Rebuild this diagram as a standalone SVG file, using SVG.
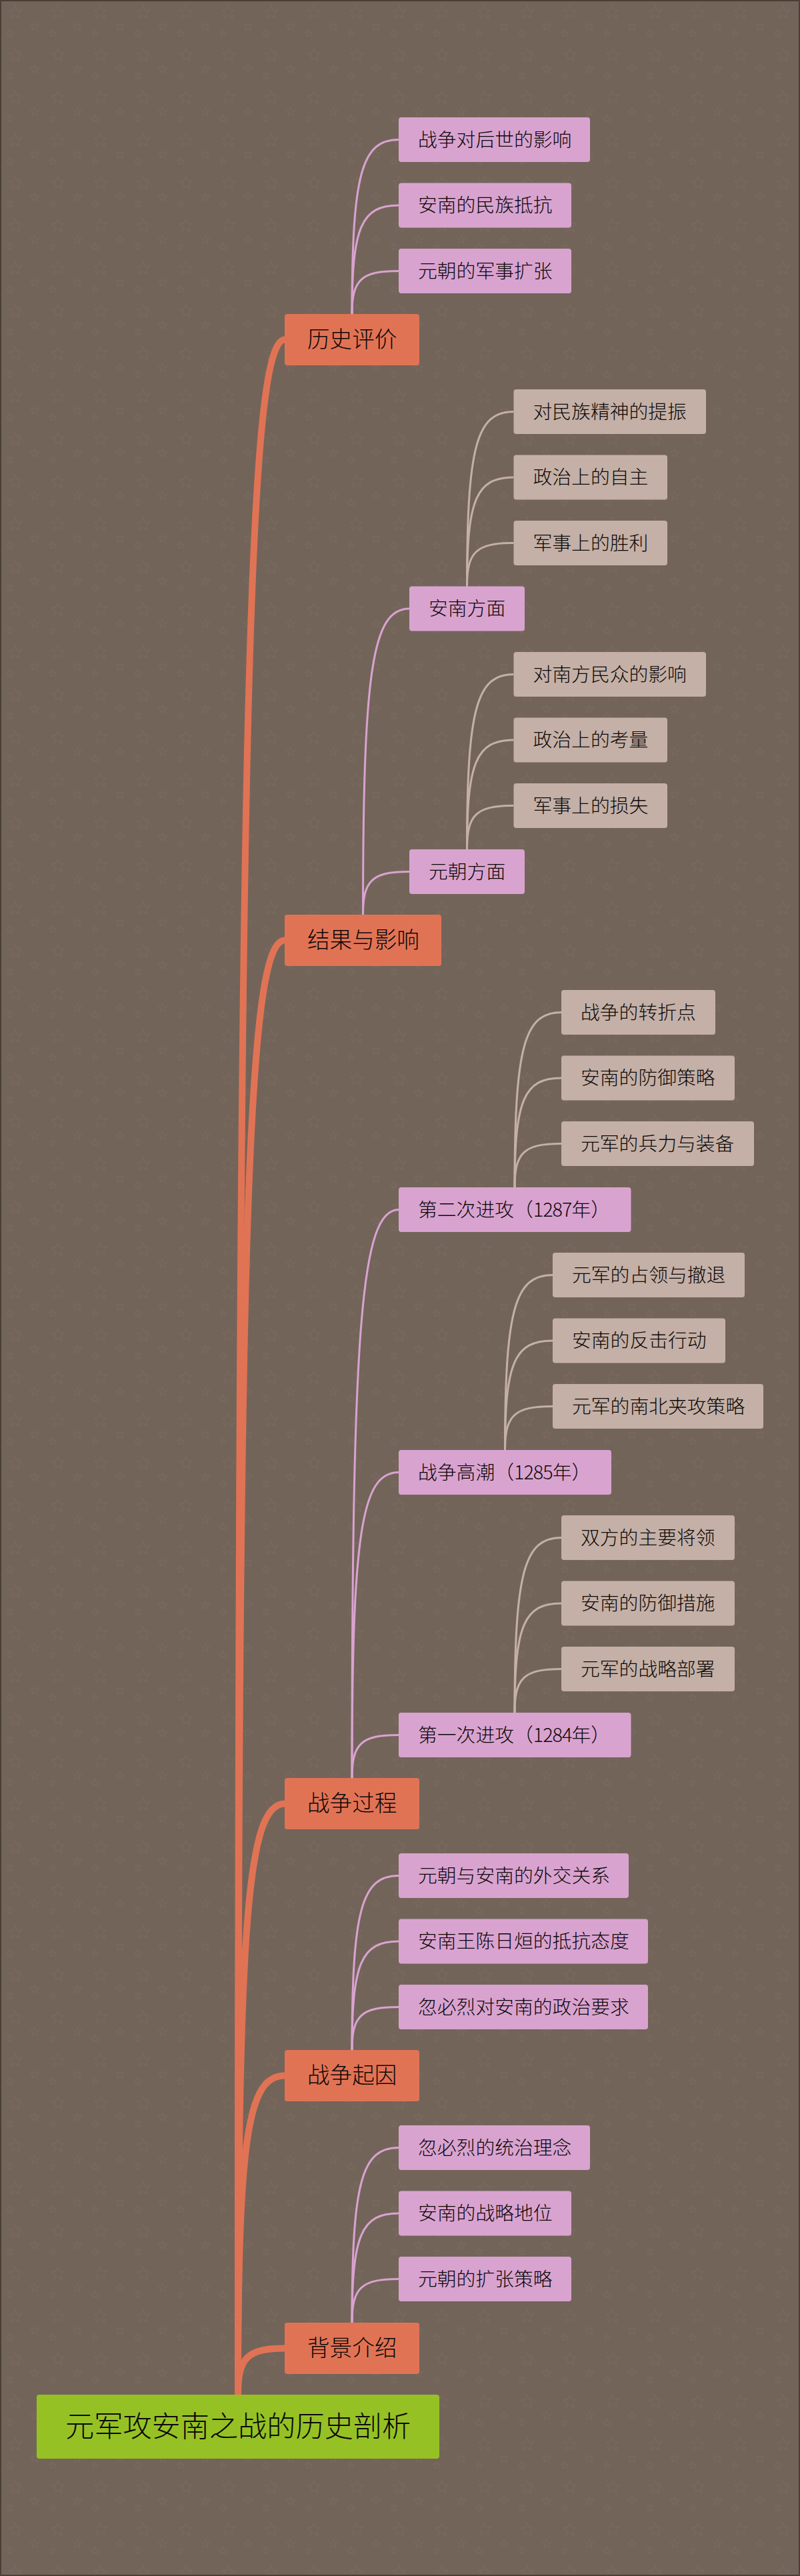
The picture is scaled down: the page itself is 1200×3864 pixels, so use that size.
<svg xmlns="http://www.w3.org/2000/svg" width="1200" height="3864" viewBox="0 0 1200 3864">
<style>
text{font-family:"Noto Sans CJK SC","Noto Sans CJK TC",sans-serif;fill:#0c0808;font-weight:300}
.r rect{fill:#95c124}.a rect{fill:#e17355}.b rect{fill:#d9a3d0}.c rect{fill:#c4b0a6}
.a text{font-size:33.6px}.b text,.c text{font-size:28.8px}
.r text{font-size:43.2px}
.n{letter-spacing:-1px}
#connectors path{fill:none}
.ea{stroke:#e17355;stroke-width:10}.eb{stroke:#d9a3d0;stroke-width:3}.ec{stroke:#c4b0a6;stroke-width:3}
</style>
<defs>
<pattern id="stars" width="64" height="64" patternUnits="userSpaceOnUse">
<g fill="none" stroke="#7a6a5e" stroke-width="1">
<polygon points="23,8 25.6,15 33,15.5 27.2,20 29.2,27.5 23,23.2 16.8,27.5 18.8,20 13,15.5 20.4,15"/>
<polygon points="52,33 53.7,37.4 58.4,37.7 54.7,40.6 56,45.4 52,42.6 48,45.4 49.3,40.6 45.6,37.7 50.3,37.4"/>
<polygon points="15,44.5 16.4,48.2 20.2,48.5 17.3,50.8 18.3,54.7 15,52.5 11.7,54.7 12.7,50.8 9.8,48.5 13.6,48.2"/>
</g>
</pattern>
</defs>
<rect width="1200" height="3864" fill="#73645a"/>
<rect width="1200" height="3864" fill="url(#stars)"/>
<rect x="1" y="1" width="1198" height="3862" fill="none" stroke="#4a3f35" stroke-width="2"/>
<g id="connectors">
<path class="ea" d="M357 3592C357 1126 371 509.5 427 509.5"/>
<path class="ea" d="M357 3592C357 1846.8 371 1410.5 427 1410.5"/>
<path class="ea" d="M357 3592C357 2882.8 371 2705.5 427 2705.5"/>
<path class="ea" d="M357 3592C357 3209.2 371 3113.5 427 3113.5"/>
<path class="ea" d="M357 3592C357 3536.4 371 3522.5 427 3522.5"/>
<path class="eb" d="M528 471C528 261.8 542 209.5 598 209.5"/>
<path class="eb" d="M528 471C528 340.6 542 308 598 308"/>
<path class="eb" d="M528 471C528 419.4 542 406.5 598 406.5"/>
<path class="eb" d="M544.5 1372C544.5 1004.8 558.4 913 614 913"/>
<path class="eb" d="M544.5 1372C544.5 1320.4 558.4 1307.5 614 1307.5"/>
<path class="eb" d="M528 2667C528 1985 542 1814.5 598 1814.5"/>
<path class="eb" d="M528 2667C528 2300.2 542 2208.5 598 2208.5"/>
<path class="eb" d="M528 2667C528 2615.4 542 2602.5 598 2602.5"/>
<path class="eb" d="M528 3075C528 2865.8 542 2813.5 598 2813.5"/>
<path class="eb" d="M528 3075C528 2944.6 542 2912 598 2912"/>
<path class="eb" d="M528 3075C528 3023.4 542 3010.5 598 3010.5"/>
<path class="eb" d="M528 3484C528 3274 542 3221.5 598 3221.5"/>
<path class="eb" d="M528 3484C528 3352.8 542 3320 598 3320"/>
<path class="eb" d="M528 3484C528 3431.6 542 3418.5 598 3418.5"/>
<path class="ec" d="M700.5 879.5C700.5 669.9 714.5 617.5 770.5 617.5"/>
<path class="ec" d="M700.5 879.5C700.5 748.7 714.5 716 770.5 716"/>
<path class="ec" d="M700.5 879.5C700.5 827.5 714.5 814.5 770.5 814.5"/>
<path class="ec" d="M700.5 1274C700.5 1064 714.5 1011.5 770.5 1011.5"/>
<path class="ec" d="M700.5 1274C700.5 1142.8 714.5 1110 770.5 1110"/>
<path class="ec" d="M700.5 1274C700.5 1221.6 714.5 1208.5 770.5 1208.5"/>
<path class="ec" d="M772 1781C772 1571 786 1518.5 842 1518.5"/>
<path class="ec" d="M772 1781C772 1649.8 786 1617 842 1617"/>
<path class="ec" d="M772 1781C772 1728.6 786 1715.5 842 1715.5"/>
<path class="ec" d="M757.5 2175C757.5 1965 771.8 1912.5 829 1912.5"/>
<path class="ec" d="M757.5 2175C757.5 2043.8 771.8 2011 829 2011"/>
<path class="ec" d="M757.5 2175C757.5 2122.6 771.8 2109.5 829 2109.5"/>
<path class="ec" d="M772 2569C772 2359 786 2306.5 842 2306.5"/>
<path class="ec" d="M772 2569C772 2437.8 786 2405 842 2405"/>
<path class="ec" d="M772 2569C772 2516.6 786 2503.5 842 2503.5"/>
</g>
<g id="n-root" class="r"><rect x="55" y="3592" width="604" height="96" rx="4"/><text x="98" y="3655">元军攻安南之战的历史剖析</text></g>
<g id="n1" class="a"><rect x="427" y="471" width="202" height="77" rx="4"/><text x="461" y="521">历史评价</text></g>
<g id="n2" class="a"><rect x="427" y="1372" width="235" height="77" rx="4"/><text x="461" y="1422">结果与影响</text></g>
<g id="n3" class="a"><rect x="427" y="2667" width="202" height="77" rx="4"/><text x="461" y="2717">战争过程</text></g>
<g id="n4" class="a"><rect x="427" y="3075" width="202" height="77" rx="4"/><text x="461" y="3125">战争起因</text></g>
<g id="n5" class="a"><rect x="427" y="3484" width="202" height="77" rx="4"/><text x="461" y="3534">背景介绍</text></g>
<g id="n1-1" class="b"><rect x="598" y="176" width="287" height="67" rx="4"/><text x="627" y="219.500">战争对后世的影响</text></g>
<g id="n1-2" class="b"><rect x="598" y="274.500" width="259" height="67" rx="4"/><text x="627" y="318">安南的民族抵抗</text></g>
<g id="n1-3" class="b"><rect x="598" y="373" width="259" height="67" rx="4"/><text x="627" y="416.500">元朝的军事扩张</text></g>
<g id="n2-1" class="b"><rect x="614" y="879.500" width="173" height="67" rx="4"/><text x="643" y="923">安南方面</text></g>
<g id="n2-2" class="b"><rect x="614" y="1274" width="173" height="67" rx="4"/><text x="643" y="1317.500">元朝方面</text></g>
<g id="n3-1" class="b"><rect x="598" y="1781" width="348.500" height="67" rx="4"/><text x="627" y="1824.500">第二次进攻（<tspan class="n">1287</tspan>年）</text></g>
<g id="n3-2" class="b"><rect x="598" y="2175" width="319" height="67" rx="4"/><text x="627" y="2218.500">战争高潮（<tspan class="n">1285</tspan>年）</text></g>
<g id="n3-3" class="b"><rect x="598" y="2569" width="348.500" height="67" rx="4"/><text x="627" y="2612.500">第一次进攻（<tspan class="n">1284</tspan>年）</text></g>
<g id="n4-1" class="b"><rect x="598" y="2780" width="345" height="67" rx="4"/><text x="627" y="2823.500">元朝与安南的外交关系</text></g>
<g id="n4-2" class="b"><rect x="598" y="2878.500" width="374" height="67" rx="4"/><text x="627" y="2922">安南王陈日烜的抵抗态度</text></g>
<g id="n4-3" class="b"><rect x="598" y="2977" width="374" height="67" rx="4"/><text x="627" y="3020.500">忽必烈对安南的政治要求</text></g>
<g id="n5-1" class="b"><rect x="598" y="3188" width="287" height="67" rx="4"/><text x="627" y="3231.500">忽必烈的统治理念</text></g>
<g id="n5-2" class="b"><rect x="598" y="3286.500" width="259" height="67" rx="4"/><text x="627" y="3330">安南的战略地位</text></g>
<g id="n5-3" class="b"><rect x="598" y="3385" width="259" height="67" rx="4"/><text x="627" y="3428.500">元朝的扩张策略</text></g>
<g id="n2-1-1" class="c"><rect x="770.500" y="584" width="288.500" height="67" rx="4"/><text x="799.500" y="627.500">对民族精神的提振</text></g>
<g id="n2-1-2" class="c"><rect x="770.500" y="682.500" width="230.500" height="67" rx="4"/><text x="799.500" y="726">政治上的自主</text></g>
<g id="n2-1-3" class="c"><rect x="770.500" y="781" width="230.500" height="67" rx="4"/><text x="799.500" y="824.500">军事上的胜利</text></g>
<g id="n2-2-1" class="c"><rect x="770.500" y="978" width="288.500" height="67" rx="4"/><text x="799.500" y="1021.500">对南方民众的影响</text></g>
<g id="n2-2-2" class="c"><rect x="770.500" y="1076.500" width="230.500" height="67" rx="4"/><text x="799.500" y="1120">政治上的考量</text></g>
<g id="n2-2-3" class="c"><rect x="770.500" y="1175" width="230.500" height="67" rx="4"/><text x="799.500" y="1218.500">军事上的损失</text></g>
<g id="n3-1-1" class="c"><rect x="842" y="1485" width="231" height="67" rx="4"/><text x="871" y="1528.500">战争的转折点</text></g>
<g id="n3-1-2" class="c"><rect x="842" y="1583.500" width="260" height="67" rx="4"/><text x="871" y="1627">安南的防御策略</text></g>
<g id="n3-1-3" class="c"><rect x="842" y="1682" width="289" height="67" rx="4"/><text x="871" y="1725.500">元军的兵力与装备</text></g>
<g id="n3-2-1" class="c"><rect x="829" y="1879" width="288" height="67" rx="4"/><text x="858" y="1922.500">元军的占领与撤退</text></g>
<g id="n3-2-2" class="c"><rect x="829" y="1977.500" width="259" height="67" rx="4"/><text x="858" y="2021">安南的反击行动</text></g>
<g id="n3-2-3" class="c"><rect x="829" y="2076" width="316" height="67" rx="4"/><text x="858" y="2119.500">元军的南北夹攻策略</text></g>
<g id="n3-3-1" class="c"><rect x="842" y="2273" width="260" height="67" rx="4"/><text x="871" y="2316.500">双方的主要将领</text></g>
<g id="n3-3-2" class="c"><rect x="842" y="2371.500" width="260" height="67" rx="4"/><text x="871" y="2415">安南的防御措施</text></g>
<g id="n3-3-3" class="c"><rect x="842" y="2470" width="260" height="67" rx="4"/><text x="871" y="2513.500">元军的战略部署</text></g>
</svg>
